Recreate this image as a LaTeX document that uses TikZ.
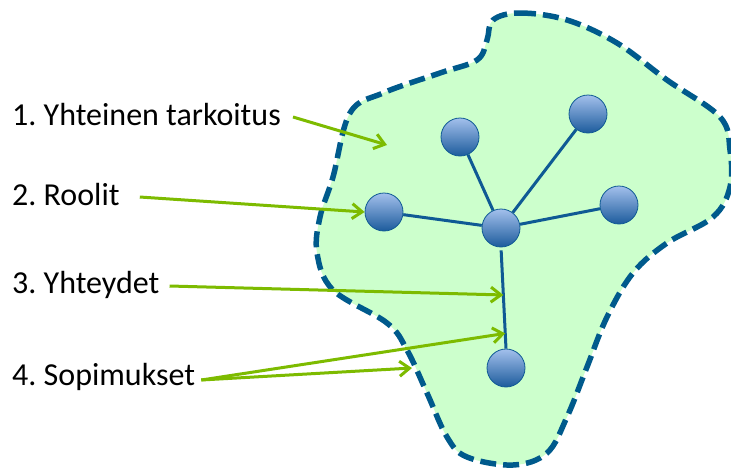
\documentclass[tikz,border=0pt]{standalone}
\usepackage{fontspec}
\setmainfont{Carlito}
\usetikzlibrary{arrows.meta}
\frenchspacing

\definecolor{blobfill}{HTML}{CCFFCC}
\definecolor{blobline}{HTML}{005A8C}
\definecolor{netline}{HTML}{0F5A94}
\definecolor{pointer}{HTML}{7DBB00}
\definecolor{balltop}{HTML}{A3C0EC}
\definecolor{ballbot}{HTML}{1C5B9C}

\tikzset{
  ball/.style={circle, minimum size=38pt, inner sep=0pt, draw=netline, line width=0.8pt,
    top color=balltop, bottom color=ballbot},
  net/.style={draw=netline, line width=3pt},
  tag/.style={anchor=west, inner sep=0pt, font=\fontsize{32}{36}\selectfont},
  pointer/.style={draw=pointer, line width=3pt, -{Straight Barb[length=10pt,width=15pt,line width=3pt]}}
}

\begin{document}
\begin{tikzpicture}[x=1pt,y=-1pt]
  \useasboundingbox (0,0) rectangle (731,467);
  % the group
  \draw[blobline, fill=blobfill, line width=5.5pt, dash pattern=on 16pt off 7pt]
    plot[smooth cycle, tension=0.6] coordinates {
      (493,20) (520,13) (567,20) (617,43) (667,80) (720,117) (730,150)
      (730,187) (713,217) (667,243) (633,273) (607,317) (587,367) (567,417)
      (547,453) (513,465) (467,457) (447,437) (427,393) (407,350) (387,323)
      (333,290) (317,253) (320,217) (333,177) (350,113) (383,93) (440,73)
      (477,60) (487,40)};
  % members
  \node[ball] (hub)   at (501,228) {};
  \node[ball] (up)    at (460,137) {};
  \node[ball] (upr)   at (588,114) {};
  \node[ball] (left)  at (384,212) {};
  \node[ball] (right) at (619,205) {};
  \node[ball] (low)   at (506,368) {};
  \path[net]
  (hub) edge (up)
  edge (upr)
  edge (left)
  edge (right)
  (hub.south) edge[shorten <=3pt] coordinate[pos=0.47] (link1) coordinate[pos=0.85] (link2) (low.north);
  % labels
  \node[tag] (t1) at (12,115) {1. Yhteinen tarkoitus};
  \node[tag] (t2) at (12,195) {2. Roolit};
  \node[tag] (t3) at (12,285) {3. Yhteydet};
  \node[tag] (t4) at (12,377) {4. Sopimukset};
  \coordinate (aim)  at (387,145);
  \coordinate (rim)  at (412,368);
  \path[every edge/.append style={pointer}]
  ([xshift=12pt,yshift=-2pt]t1.east) edge (aim)
  ([xshift=20pt,yshift=-2pt]t2.east) edge (left.west)
  ([xshift=10pt,yshift=-1pt]t3.east) edge (link1)
  ([xshift=6pt,yshift=-3pt]t4.east) edge (link2)
  ([xshift=6pt,yshift=-3pt]t4.east) edge (rim);
\end{tikzpicture}
\end{document}
